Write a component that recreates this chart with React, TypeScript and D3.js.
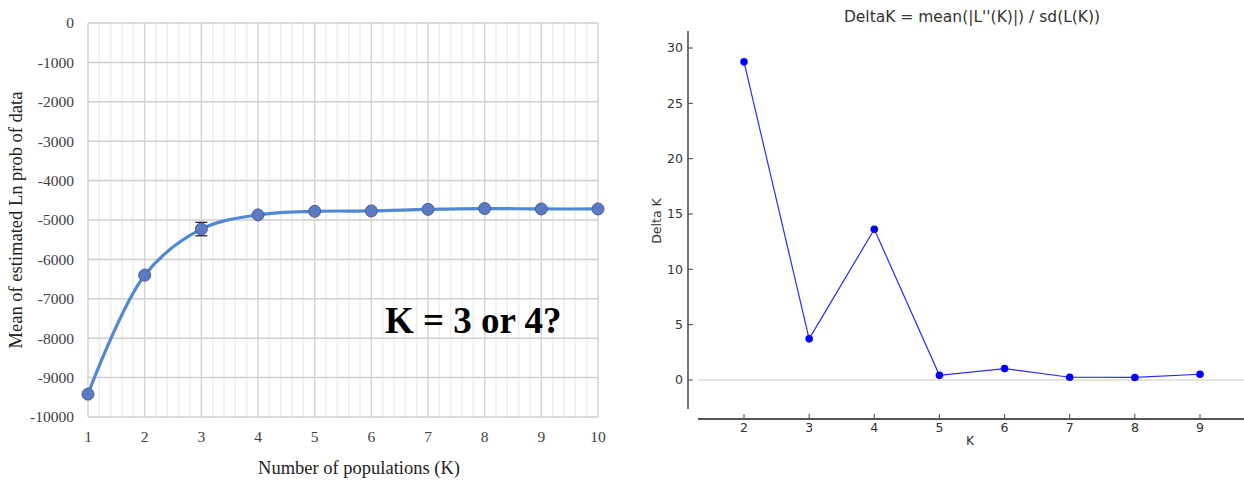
import React from "react";
import * as d3 from "d3";

// Left chart data: mean Ln P(D) per K
const popK = [1, 2, 3, 4, 5, 6, 7, 8, 9, 10];
const meanLnP = [-9420, -6400, -5230, -4870, -4780, -4770, -4730, -4710, -4720, -4720];
const sdLnP = [20, 15, 170, 15, 10, 10, 10, 10, 10, 10];
const leftYTicks = [0, -1000, -2000, -3000, -4000, -5000, -6000, -7000, -8000, -9000, -10000];

// Right chart data: DeltaK per K
const deltaKs = [2, 3, 4, 5, 6, 7, 8, 9];
const deltaVals = [28.75, 3.72, 13.62, 0.42, 1.03, 0.25, 0.23, 0.52];
const rightYTicks = [0, 5, 10, 15, 20, 25, 30];

const serif = "'Liberation Serif', 'Times New Roman', serif";
const sans = "'DejaVu Sans', sans-serif";

function LeftChart() {
  const x = d3.scaleLinear().domain([1, 10]).range([88, 598]);
  const y = d3.scaleLinear().domain([0, -10000]).range([23, 417]);
  const minor: number[] = [];
  for (let k = 1; k < 10; k++) for (let j = 1; j < 5; j++) minor.push(k + j / 5);
  const line = d3
    .line<number>()
    .x((_, i) => x(popK[i]))
    .y((d) => y(d))
    .curve(d3.curveCatmullRom.alpha(0.5));
  return (
    <g>
      {minor.map((m) => (
        <line key={"mi" + m} x1={x(m)} x2={x(m)} y1={y(0)} y2={y(-10000)} stroke="#ececec" strokeWidth={1.5} />
      ))}
      {popK.map((k) => (
        <line key={"mv" + k} x1={x(k)} x2={x(k)} y1={y(0)} y2={y(-10000)} stroke="#d4d4d4" strokeWidth={1.5} />
      ))}
      {leftYTicks.map((t) => (
        <line key={"h" + t} x1={x(1)} x2={x(10)} y1={y(t)} y2={y(t)} stroke="#cfcfcf" strokeWidth={1.5} />
      ))}
      {leftYTicks.map((t) => (
        <text key={"yl" + t} x={74} y={y(t)} dy="0.35em" textAnchor="end" fontFamily={serif} fontSize={15.5} fill="#404040">
          {t}
        </text>
      ))}
      {popK.map((k) => (
        <text key={"xl" + k} x={x(k)} y={442} textAnchor="middle" fontFamily={serif} fontSize={15.5} fill="#404040">
          {k}
        </text>
      ))}
      <text x={359} y={474} textAnchor="middle" fontFamily={serif} fontSize={18.5} fill="#222">
        Number of populations (K)
      </text>
      <text
        transform={`translate(22,${220}) rotate(-90)`}
        textAnchor="middle"
        fontFamily={serif}
        fontSize={18.5}
        fill="#222"
      >
        Mean of estimated Ln prob of data
      </text>
      {popK.map((k, i) =>
        sdLnP[i] > 50 ? (
          <g key={"eb" + k} stroke="#222" strokeWidth={1.3}>
            <line x1={x(k)} x2={x(k)} y1={y(meanLnP[i] + sdLnP[i])} y2={y(meanLnP[i] - sdLnP[i])} />
            <line x1={x(k) - 6} x2={x(k) + 6} y1={y(meanLnP[i] + sdLnP[i])} y2={y(meanLnP[i] + sdLnP[i])} />
            <line x1={x(k) - 6} x2={x(k) + 6} y1={y(meanLnP[i] - sdLnP[i])} y2={y(meanLnP[i] - sdLnP[i])} />
          </g>
        ) : null
      )}
      <path d={line(meanLnP) || ""} fill="none" stroke="#4f89d4" strokeWidth={3.2} />
      {popK.map((k, i) => (
        <circle key={"p" + k} cx={x(k)} cy={y(meanLnP[i])} r={6} fill="#5a7bc4" stroke="#4a5b9c" strokeWidth={1} />
      ))}
      <text x={385} y={333} fontFamily={serif} fontSize={37} fontWeight="bold" fill="#000">
        K = 3 or 4?
      </text>
    </g>
  );
}

function RightChart() {
  const x = d3.scaleLinear().domain([2, 9]).range([744, 1200]);
  const y = d3.scaleLinear().domain([0, 30]).range([380, 48]);
  const axisX = 688;
  const axisY = 419;
  const line = d3
    .line<number>()
    .x((_, i) => x(deltaKs[i]))
    .y((d) => y(d));
  return (
    <g>
      <text x={972} y={22} textAnchor="middle" fontFamily={sans} fontSize={15.5} fill="#333">
        DeltaK = mean(|L''(K)|) / sd(L(K))
      </text>
      <line x1={698} x2={1244} y1={y(0)} y2={y(0)} stroke="#c8c8c8" strokeWidth={1} />
      <line x1={axisX} x2={axisX} y1={31} y2={409} stroke="#444" strokeWidth={1.5} />
      {rightYTicks.map((t) => (
        <g key={"ry" + t}>
          <line x1={axisX} x2={axisX + 5} y1={y(t)} y2={y(t)} stroke="#444" strokeWidth={1} />
          <text x={683} y={y(t)} dy="0.35em" textAnchor="end" fontFamily={sans} fontSize={12.5} fill="#333">
            {t}
          </text>
        </g>
      ))}
      <line x1={698} x2={1244} y1={axisY} y2={axisY} stroke="#555" strokeWidth={2} />
      {deltaKs.map((k) => (
        <g key={"rx" + k}>
          <line x1={x(k)} x2={x(k)} y1={axisY} y2={axisY - 5} stroke="#444" strokeWidth={1} />
          <text x={x(k)} y={432} textAnchor="middle" fontFamily={sans} fontSize={12.5} fill="#333">
            {k}
          </text>
        </g>
      ))}
      <text x={970} y={445} textAnchor="middle" fontFamily={sans} fontSize={12.5} fill="#333">
        K
      </text>
      <text transform={`translate(661,${221}) rotate(-90)`} textAnchor="middle" fontFamily={sans} fontSize={12.5} fill="#333">
        Delta K
      </text>
      <path d={line(deltaVals) || ""} fill="none" stroke="#2a2aff" strokeWidth={1.2} />
      {deltaKs.map((k, i) => (
        <circle key={"rp" + k} cx={x(k)} cy={y(deltaVals[i])} r={3.8} fill="#0000ff" />
      ))}
    </g>
  );
}

export default function App() {
  return (
    <svg
      width={1244}
      height={482}
      style={{ position: "absolute", left: 0, top: 0, background: "#fff" }}
    >
      <rect width={1244} height={482} fill="#fff" />
      <LeftChart />
      <RightChart />
    </svg>
  );
}
